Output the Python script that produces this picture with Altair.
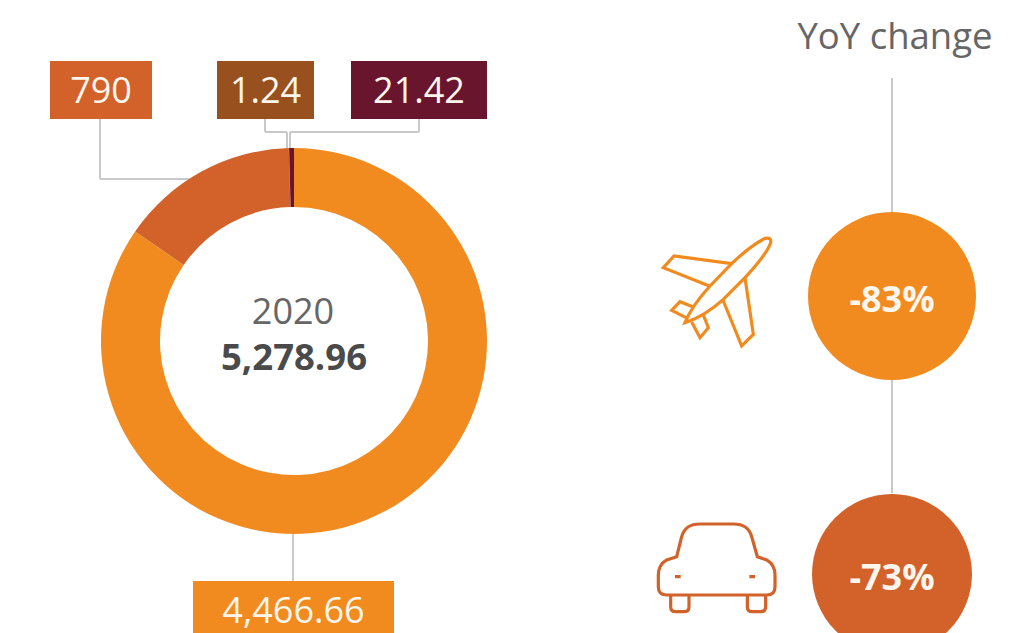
import re
import altair as alt
import pandas as pd

FONT = "Open Sans"
ORANGE, RUST, BROWN, WINE = "#F28B1F", "#D2622A", "#98501F", "#6A152E"
GREY = "#C9C9C9"

# Donut
slice_names = ["Large", "Medium", "Small", "Minor"]
slice_values = [4466.66, 790, 1.24, 21.42]
slice_colors = [ORANGE, RUST, BROWN, WINE]
slice_order = [0, 1, 2, 3]
donut_x, donut_y = 294, 341

# Value boxes
box_labels = ["790", "1.24", "21.42", "4,466.66"]
box_x1 = [50, 217, 351, 193]
box_x2 = [152, 314, 487, 394]
box_y1 = [61, 61, 61, 581]
box_y2 = [119, 119, 119, 633]
box_colors = [RUST, BROWN, WINE, ORANGE]
box_text_y = [103, 103, 103, 623]

# Connector segments
seg_x1 = [100, 100, 265, 265, 287, 419, 419, 290, 293, 892, 892]
seg_x2 = [100, 190, 265, 287, 287, 419, 290, 290, 293, 892, 892]
seg_y1 = [119, 179, 119, 132, 132, 119, 132, 132, 534, 78, 380]
seg_y2 = [179, 179, 132, 132, 148, 132, 132, 148, 581, 212, 493]

# YoY bubbles
bubble_x = [892, 892]
bubble_y = [296, 574]
bubble_r = [84, 80]
bubble_colors = [ORANGE, RUST]
bubble_labels = ["-83%", "-73%"]
bubble_text_y = [312, 590]

# Free text
text_labels = ["YoY change", "2020", "5,278.96"]
text_x = [895, 293, 294]
text_y = [49, 324, 370]
text_colors = ["#666666", "#666666", "#4A4A4A"]
text_weights = ["normal", "normal", "bold"]
text_sizes = [36.5, 36, 36.5]

# Icons, outlines drawn in a 3x working grid
plane_outline = ("M105 305 Q125 255 180 195 L245 128 Q300 75 345 52 Q365 48 362 65 Q350 100 285 170 "
                 "L220 235 Q165 285 105 305 Z M245 128 L72 105 L40 140 L178 195 "
                 "M285 170 L310 340 L275 375 L220 240 M130 258 L90 242 L65 268 L108 290 "
                 "M125 303 L150 350 L175 320 L160 282")
car_outline = ("M80 140 L95 80 Q105 42 150 42 L250 42 Q295 42 305 80 L322 140 L350 150 Q375 165 375 195 "
               "L375 230 Q375 255 350 255 L50 255 Q25 255 25 230 L25 195 Q25 165 50 150 Z "
               "M62 255 L62 290 Q62 305 77 305 L102 305 Q117 305 117 290 L117 255 "
               "M292 255 L292 290 Q292 305 307 305 L332 305 Q347 305 347 290 L347 255 "
               "M75 200 L92 200 M298 200 L315 200")


def icon_path(outline, cx, cy, span=180.0):
    vals = iter(re.findall(r"[A-Za-z]|-?\d+\.?\d*", outline))
    out, is_x = [], True
    for tok in vals:
        if tok.isalpha():
            out.append(tok)
            is_x = True
        else:
            v = (float(tok) - (cx if is_x else cy)) / span
            out.append(f"{v:.4f}")
            is_x = not is_x
    return " ".join(out)


X = alt.X("x:Q", axis=None, scale=alt.Scale(domain=[8, 1027], nice=False, zero=False))
Y = alt.Y("y:Q", axis=None, scale=alt.Scale(domain=[633, 8], nice=False, zero=False))

donut = alt.Chart(pd.DataFrame({
    "name": slice_names, "value": slice_values, "c": slice_colors, "o": slice_order,
    "x": donut_x, "y": donut_y,
})).mark_arc(outerRadius=193, innerRadius=134).encode(
    x=X, y=Y,
    theta=alt.Theta("value:Q", stack=True),
    order=alt.Order("o:Q"),
    color=alt.Color("c:N", scale=None),
)

rules = alt.Chart(pd.DataFrame({"x": seg_x1, "x2": seg_x2, "y": seg_y1, "y2": seg_y2})).mark_rule(
    color=GREY, strokeWidth=2
).encode(x=X, x2="x2:Q", y=Y, y2="y2:Q")

boxes = alt.Chart(pd.DataFrame({
    "x": box_x1, "x2": box_x2, "y": box_y1, "y2": box_y2, "c": box_colors,
})).mark_rect(clip=True).encode(x=X, x2="x2:Q", y=Y, y2="y2:Q", color=alt.Color("c:N", scale=None))

box_text = alt.Chart(pd.DataFrame({
    "x": [(a + b) / 2 for a, b in zip(box_x1, box_x2)], "y": box_text_y, "t": box_labels,
})).mark_text(font=FONT, fontSize=36, color="#FDF6EC", align="center", baseline="alphabetic").encode(
    x=X, y=Y, text="t:N")

bubbles = alt.Chart(pd.DataFrame({
    "x": bubble_x, "y": bubble_y, "c": bubble_colors,
    "s": [(2 * r) ** 2 for r in bubble_r],
})).mark_circle(opacity=1, clip=True).encode(
    x=X, y=Y, color=alt.Color("c:N", scale=None), size=alt.Size("s:Q", scale=None))

bubble_text = alt.Chart(pd.DataFrame({"x": bubble_x, "y": bubble_text_y, "t": bubble_labels})).mark_text(
    font=FONT, fontSize=36, fontWeight="bold", color="#FDF6EC", align="center", baseline="alphabetic"
).encode(x=X, y=Y, text="t:N")

free_text = [
    alt.Chart(pd.DataFrame({"x": [x], "y": [y], "t": [t]})).mark_text(
        font=FONT, fontSize=s, fontWeight=w, color=c, align="center", baseline="alphabetic"
    ).encode(x=X, y=Y, text="t:N")
    for t, x, y, c, w, s in zip(text_labels, text_x, text_y, text_colors, text_weights, text_sizes)
]

plane = alt.Chart(pd.DataFrame({"x": [716.67], "y": [291], "s": [14400]})).mark_point(
    shape=icon_path(plane_outline, 200, 210), filled=False, color=ORANGE, strokeWidth=3.2, opacity=1
).encode(x=X, y=Y, size=alt.Size("s:Q", scale=None))

car = alt.Chart(pd.DataFrame({"x": [716.67], "y": [568.33], "s": [14400]})).mark_point(
    shape=icon_path(car_outline, 200, 175), filled=False, color=RUST, strokeWidth=3.2, opacity=1
).encode(x=X, y=Y, size=alt.Size("s:Q", scale=None))

chart = alt.layer(
    rules, donut, boxes, box_text, bubbles, bubble_text, *free_text, plane, car
).properties(
    width=1019, height=625, padding=0,
    autosize=alt.AutoSizeParams(type="none"), background="white",
).configure_view(stroke=None)

chart.save("out.html", embed_options={"renderer": "svg", "actions": False})
